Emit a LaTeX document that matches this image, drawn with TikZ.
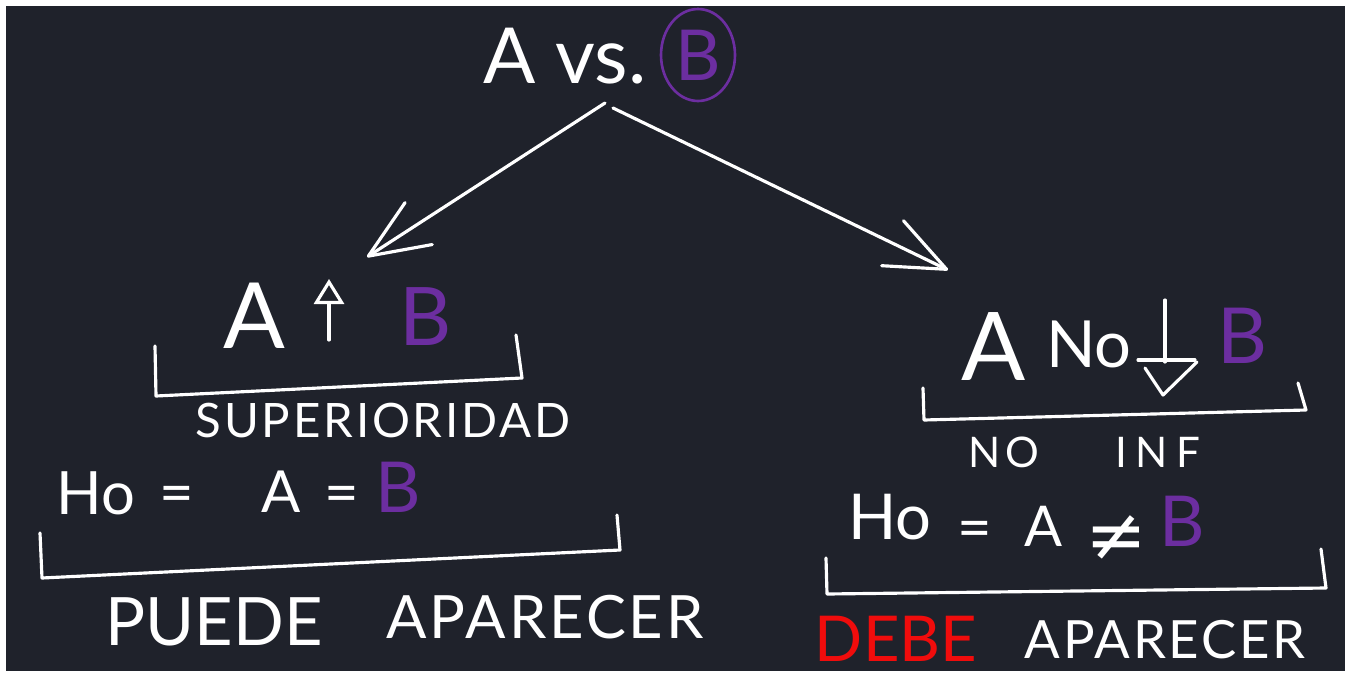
\documentclass[tikz,border=0pt]{standalone}
\usepackage{fontspec}
\setmainfont{Lato}
\newfontfamily\symfont{DejaVu Sans}
\usepackage{tikz}
\usetikzlibrary{arrows.meta,shapes.geometric}
\definecolor{board}{RGB}{31,34,43}
\definecolor{vio}{RGB}{108,46,160}
\definecolor{rojo}{RGB}{240,12,12}
\newcommand{\fs}[1]{\fontsize{#1}{#1}\selectfont}
\tikzset{
    chalk/.style={text=white, inner sep=0pt, anchor=base},
    % trazo a mano
    stroke/.style={white, line width=1.8pt, line cap=round, line join=round},
    branch/.style={stroke, -{Straight Barb[round, length=12mm, width=10mm]}}
}

\begin{document}
\begin{tikzpicture}[x=0.02cm, y=-0.02cm]
    \useasboundingbox (0,0) rectangle (1349,673);
    \fill[white] (0,0) rectangle (1349,673);
    \fill[board] (6,6) rectangle (1345,671);

    % A vs. B
    \node[chalk, font=\fs{44}] (top) at (565,83) {A vs.};
    \node[ellipse, draw=vio, line width=1.5pt, text=vio, inner sep=0pt,
          minimum width=1.48cm, minimum height=1.84cm, font=\fs{40}] (topB) at (698,55) {B};

    \coordinate (forkL) at (605,103);
    \coordinate (forkR) at (613,108);
    \coordinate (tipL) at (367,257);
    \coordinate (tipR) at (948,270);
    \draw[branch] (forkL) -- (tipL);
    \draw[branch] (forkR) -- (tipR);

    % superioridad
    \node[chalk, font=\fs{52}] (supA) at (254,348) {A};
    \draw[stroke, -{Triangle[open, length=5mm, width=6mm]}] (329,340) -- (329,279);
    \node[chalk, font=\fs{46}, text=vio] (supB) at (426,345) {B};
    \draw[stroke] (155,346) -- (156,396) -- (522,378) -- (516,335);
    \node[chalk, font={\fs{27}\addfontfeatures{LetterSpace=6}}] (supLbl) at (383,437) {SUPERIORIDAD};

    \node[chalk, font=\fs{34}] (hoL) at (96,514) {Ho};
    \node[chalk, font=\fs{34}] (eqL1) at (177,513) {=};
    \node[chalk, font=\fs{33}] (aL) at (281,512) {A};
    \node[chalk, font=\fs{34}] (eqL2) at (342,513) {=};
    \node[chalk, font=\fs{40}, text=vio] (bL) at (398,512) {B};
    \draw[stroke] (40,533) -- (42,578) -- (620,550) -- (617,515);
    \node[chalk, font=\fs{38}] (puede) at (214,645) {PUEDE};
    \node[chalk, font={\fs{34}\addfontfeatures{LetterSpace=5}}] (aparL) at (545,638) {APARECER};

    % no inferioridad
    \node[chalk, font=\fs{54}] (noA) at (994,380) {A};
    \node[chalk, font=\fs{37}] (noNo) at (1089,367) {No};
    \draw[stroke] (1165,300) -- (1165,362);
    \draw[stroke] (1138,360) -- (1195,360);
    \draw[stroke] (1145,368) -- (1163,395) -- (1197,362);
    \node[chalk, font=\fs{44}, text=vio] (noB) at (1242,363) {B};
    \draw[stroke] (923,388) -- (924,420) -- (1306,410) -- (1298,383);
    \node[chalk, font={\fs{24}\addfontfeatures{LetterSpace=12}}] (lblNo) at (1004,467) {NO};
    \node[chalk, font={\fs{24}\addfontfeatures{LetterSpace=20}}] (lblInf) at (1158,467) {INF};

    \node[chalk, font=\fs{36}] (hoR) at (890,539) {Ho};
    \node[chalk, font=\fs{34}] (eqR) at (975,548) {=};
    \node[chalk, font=\fs{32}] (aR) at (1044,546) {A};
    \node[chalk, anchor=center, font={\symfont\fs{42}}] (neqR) at (1116,538) {≠};
    \node[chalk, font=\fs{40}, text=vio] (bR) at (1182,546) {B};
    \draw[stroke] (826,558) -- (827,594) -- (1326,588) -- (1321,549);
    \node[chalk, font=\fs{36}, text=rojo] (debe) at (896,661) {DEBE};
    \node[chalk, font={\fs{30}\addfontfeatures{LetterSpace=5}}] (aparR) at (1165,658) {APARECER};
\end{tikzpicture}
\end{document}
